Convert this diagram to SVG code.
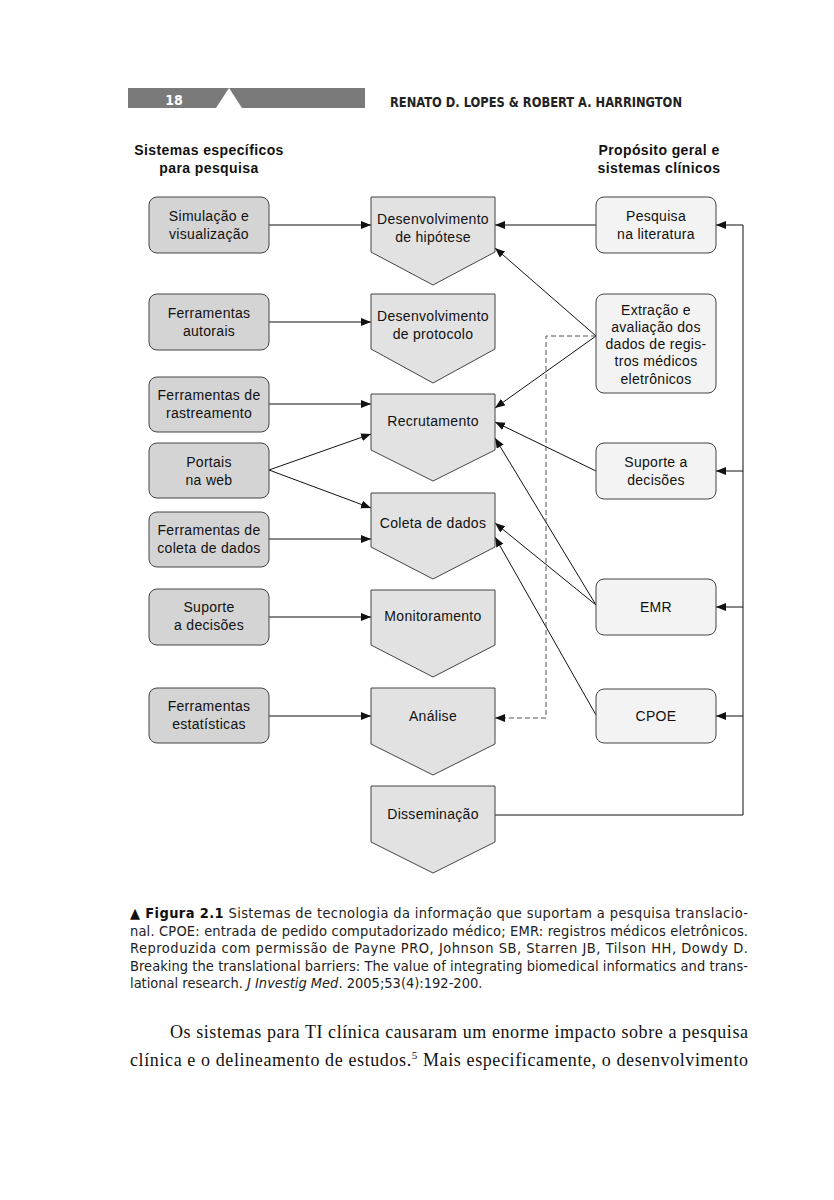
<svg xmlns="http://www.w3.org/2000/svg" width="834" height="1200" viewBox="0 0 834 1200">
<style>
.lnode{fill:#d4d4d4;stroke:#444;stroke-width:1}
.rnode{fill:#f3f3f3;stroke:#444;stroke-width:1}
.pent{fill:#e2e2e2;stroke:#444;stroke-width:1}
.t{font-family:"Liberation Sans",Arial,sans-serif;font-size:14px;letter-spacing:0.3px;fill:#111;text-anchor:middle}
.h{font-family:"Liberation Sans",Arial,sans-serif;font-size:14px;font-weight:bold;letter-spacing:0.4px;fill:#111;text-anchor:middle}
.c{stroke:#111;stroke-width:1;fill:none;marker-end:url(#ah)}
.d{stroke:#555;stroke-width:1;fill:none;stroke-dasharray:5,3;marker-end:url(#ah)}
.cap{font-family:"Liberation Sans Narrow","DejaVu Sans Condensed",sans-serif;font-size:14.5px;fill:#222}
.body{font-family:"Liberation Serif","Times New Roman",serif;font-size:18px;fill:#111}
</style>
<defs>
<marker id="ah" markerUnits="userSpaceOnUse" markerWidth="11" markerHeight="9" refX="10" refY="4" orient="auto">
<path d="M0,0 L10,4 L0,8 Z" fill="#111"/>
</marker>
</defs>
<rect width="834" height="1200" fill="#fff"/>

<g id="header">
<rect x="128" y="88" width="237" height="20" fill="#7a7a7a"/>
<polygon points="216,108 229,88 242,108" fill="#fff"/>
<text x="174" y="105" font-family="Liberation Sans Narrow,'DejaVu Sans Condensed',sans-serif" font-weight="bold" font-size="14" fill="#fff" text-anchor="middle">18</text>
<text x="390" y="107" font-family="Liberation Sans Narrow,'DejaVu Sans Condensed',sans-serif" font-weight="bold" font-size="14.5" fill="#222" textLength="292" lengthAdjust="spacingAndGlyphs">RENATO D. LOPES &amp; ROBERT A. HARRINGTON</text>
</g>

<g id="col-headers">
<text class="h" x="209" y="155">Sistemas específicos</text>
<text class="h" x="209" y="173">para pesquisa</text>
<text class="h" x="659" y="155">Propósito geral e</text>
<text class="h" x="659" y="173">sistemas clínicos</text>
</g>

<g id="connectors">
<line class="c" x1="269" y1="225" x2="371" y2="225"/>
<line class="c" x1="269" y1="322" x2="371" y2="322"/>
<line class="c" x1="269" y1="404" x2="371" y2="404"/>
<line class="c" x1="269" y1="470" x2="371" y2="434"/>
<line class="c" x1="269" y1="470" x2="371" y2="508"/>
<line class="c" x1="269" y1="539" x2="371" y2="539"/>
<line class="c" x1="269" y1="617" x2="371" y2="617"/>
<line class="c" x1="269" y1="716" x2="371" y2="716"/>
<line class="c" x1="596" y1="225" x2="495" y2="225"/>
<line class="c" x1="596" y1="336" x2="495" y2="248"/>
<line class="c" x1="596" y1="336" x2="495" y2="408"/>
<line class="c" x1="596" y1="471" x2="495" y2="422"/>
<line class="c" x1="596" y1="605" x2="495" y2="438"/>
<line class="c" x1="596" y1="605" x2="495" y2="523"/>
<line class="c" x1="596" y1="715" x2="495" y2="537"/>
<path class="d" d="M596,336 H546 V718 H495"/>
<path class="c" d="M495,815 H743 V225 H716"/>
<line class="c" x1="743" y1="471" x2="716" y2="471"/>
<line class="c" x1="743" y1="607" x2="716" y2="607"/>
<line class="c" x1="743" y1="716" x2="716" y2="716"/>
</g>

<g id="n-simulacao"><rect class="lnode" x="149" y="197" width="120" height="56" rx="8"/><text class="t" x="209" y="221">Simulação e</text><text class="t" x="209" y="239">visualização</text></g>
<g id="n-autorais"><rect class="lnode" x="149" y="294" width="120" height="56" rx="8"/><text class="t" x="209" y="318">Ferramentas</text><text class="t" x="209" y="336">autorais</text></g>
<g id="n-rastreamento"><rect class="lnode" x="149" y="377" width="120" height="55" rx="8"/><text class="t" x="209" y="400">Ferramentas de</text><text class="t" x="209" y="418">rastreamento</text></g>
<g id="n-portais"><rect class="lnode" x="149" y="443" width="120" height="55" rx="8"/><text class="t" x="209" y="467">Portais</text><text class="t" x="209" y="485">na web</text></g>
<g id="n-coleta-tools"><rect class="lnode" x="149" y="512" width="120" height="55" rx="8"/><text class="t" x="209" y="535">Ferramentas de</text><text class="t" x="209" y="553">coleta de dados</text></g>
<g id="n-suporte-l"><rect class="lnode" x="149" y="589" width="120" height="56" rx="8"/><text class="t" x="209" y="612">Suporte</text><text class="t" x="209" y="630">a decisões</text></g>
<g id="n-estatisticas"><rect class="lnode" x="149" y="688" width="120" height="55" rx="8"/><text class="t" x="209" y="711">Ferramentas</text><text class="t" x="209" y="729">estatísticas</text></g>

<g id="p-hipotese"><path class="pent" d="M371,197 H495 V252 L433,285 L371,252 Z"/><text class="t" x="433" y="224">Desenvolvimento</text><text class="t" x="433" y="242">de hipótese</text></g>
<g id="p-protocolo"><path class="pent" d="M371,294 H495 V349 L433,383 L371,349 Z"/><text class="t" x="433" y="321">Desenvolvimento</text><text class="t" x="433" y="339">de protocolo</text></g>
<g id="p-recrutamento"><path class="pent" d="M371,394 H495 V450 L433,481 L371,450 Z"/><text class="t" x="433" y="426">Recrutamento</text></g>
<g id="p-coleta"><path class="pent" d="M371,493 H495 V547 L433,579 L371,547 Z"/><text class="t" x="433" y="528">Coleta de dados</text></g>
<g id="p-monitoramento"><path class="pent" d="M371,590 H495 V645 L433,677 L371,645 Z"/><text class="t" x="433" y="621">Monitoramento</text></g>
<g id="p-analise"><path class="pent" d="M371,688 H495 V744 L433,775 L371,744 Z"/><text class="t" x="433" y="721">Análise</text></g>
<g id="p-disseminacao"><path class="pent" d="M371,786 H495 V842 L433,873 L371,842 Z"/><text class="t" x="433" y="819">Disseminação</text></g>

<g id="n-pesquisa"><rect class="rnode" x="596" y="197" width="120" height="56" rx="8"/><text class="t" x="656" y="221">Pesquisa</text><text class="t" x="656" y="239">na literatura</text></g>
<g id="n-extracao"><rect class="rnode" x="596" y="294" width="120" height="99" rx="8"/><text class="t" x="656" y="315">Extração e</text><text class="t" x="656" y="332">avaliação dos</text><text class="t" x="656" y="349">dados de regis-</text><text class="t" x="656" y="366">tros médicos</text><text class="t" x="656" y="384">eletrônicos</text></g>
<g id="n-suporte-r"><rect class="rnode" x="596" y="443" width="120" height="56" rx="8"/><text class="t" x="656" y="467">Suporte a</text><text class="t" x="656" y="485">decisões</text></g>
<g id="n-emr"><rect class="rnode" x="596" y="579" width="120" height="56" rx="8"/><text class="t" x="656" y="612">EMR</text></g>
<g id="n-cpoe"><rect class="rnode" x="596" y="689" width="120" height="54" rx="8"/><text class="t" x="656" y="721">CPOE</text></g>

<g id="caption">
<text class="cap" x="130" y="918" textLength="618" lengthAdjust="spacing"><tspan font-weight="bold" fill="#111">▲ Figura 2.1</tspan> Sistemas de tecnologia da informação que suportam a pesquisa translacio-</text>
<text class="cap" x="130" y="936" textLength="618" lengthAdjust="spacing">nal. CPOE: entrada de pedido computadorizado médico; EMR: registros médicos eletrônicos.</text>
<text class="cap" x="130" y="953" textLength="618" lengthAdjust="spacing">Reproduzida com permissão de Payne PRO, Johnson SB, Starren JB, Tilson HH, Dowdy D.</text>
<text class="cap" x="130" y="971" textLength="618" lengthAdjust="spacing">Breaking the translational barriers: The value of integrating biomedical informatics and trans-</text>
<text class="cap" x="130" y="988">lational research. <tspan font-style="italic">J Investig Med</tspan>. 2005;53(4):192-200.</text>
</g>

<g id="body">
<text class="body" x="170" y="1038" textLength="578" lengthAdjust="spacing">Os sistemas para TI clínica causaram um enorme impacto sobre a pesquisa</text>
<text class="body" x="130" y="1066" textLength="618" lengthAdjust="spacing">clínica e o delineamento de estudos.<tspan font-size="11" dy="-7">5</tspan><tspan dy="7"> Mais especificamente, o desenvolvimento</tspan></text>
</g>
</svg>
